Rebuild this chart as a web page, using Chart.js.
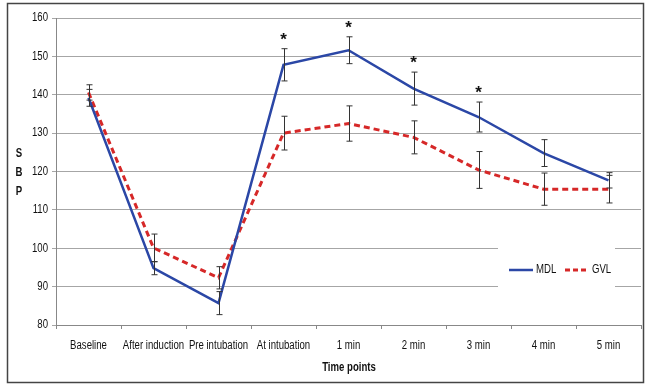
<!DOCTYPE html>
<html>
<head>
<meta charset="utf-8">
<script src="https://cdn.jsdelivr.net/npm/chart.js@4.4.1/dist/chart.umd.min.js"></script>
<style>
  html, body { margin: 0; padding: 0; background: #fff; }
  #wrap { width: 647px; height: 385px; position: relative; }
</style>
</head>
<body>
<div id="wrap"><canvas id="sbpChart" width="647" height="385"></canvas></div>
<script>
// Data
const timePoints = ["Baseline", "After induction", "Pre intubation", "At intubation", "1 min", "2 min", "3 min", "4 min", "5 min"];
const mdlMean = [139.2, 94.8, 85.7, 147.8, 151.6, 141.6, 134.2, 124.8, 117.7];
const mdlErr = [2.2, 1.7, 3.0, 4.2, 3.5, 4.3, 3.9, 3.5, 2.0];
const gvlMean = [140.6, 100.1, 92.3, 130.0, 132.5, 128.9, 120.4, 115.4, 115.4];
const gvlErr = [2.0, 3.6, 2.9, 4.4, 4.6, 4.3, 4.8, 4.2, 3.6];
const significant = [false, false, false, true, true, true, true, false, false];

const FONT = "'Liberation Sans', Arial, sans-serif";
const BLUE = "#2b47a6";
const RED = "#d62828";
const SQUEEZE = 0.8; // the original uses a condensed face

// draw text squeezed horizontally, anchored at (x, y)
function narrowText(ctx, text, x, y, align) {
  ctx.save();
  ctx.translate(x, y);
  ctx.scale(SQUEEZE, 1);
  ctx.textAlign = align;
  ctx.textBaseline = "middle";
  ctx.fillText(text, 0, 0);
  ctx.restore();
}

// tick labels, error bars, stars, axis titles, legend and frame
const extras = {
  id: "extras",
  beforeDatasetsDraw(chart) {
    const ctx = chart.ctx;
    // white legend box covering the grid lines
    ctx.save();
    ctx.fillStyle = "#fff";
    ctx.fillRect(498, 240, 117, 56);
    ctx.lineWidth = 2.5;
    ctx.strokeStyle = BLUE;
    ctx.beginPath();
    ctx.moveTo(509, 270);
    ctx.lineTo(533, 270);
    ctx.stroke();
    ctx.strokeStyle = RED;
    ctx.lineWidth = 3;
    ctx.setLineDash([5, 3]);
    ctx.beginPath();
    ctx.moveTo(565, 270);
    ctx.lineTo(589, 270);
    ctx.stroke();
    ctx.setLineDash([]);
    ctx.fillStyle = "#111";
    ctx.font = "12px " + FONT;
    narrowText(ctx, "MDL", 536, 270, "left");
    narrowText(ctx, "GVL", 592, 270, "left");
    ctx.restore();
  },
  afterDatasetsDraw(chart) {
    const ctx = chart.ctx;
    const x = chart.scales.x;
    const y = chart.scales.y;
    ctx.save();

    // tick labels
    ctx.fillStyle = "#111";
    ctx.font = "12px " + FONT;
    timePoints.forEach((t, i) => {
      narrowText(ctx, t, x.getPixelForValue(i), 346, "center");
    });
    y.ticks.forEach((t) => {
      narrowText(ctx, String(t.value), 48, y.getPixelForValue(t.value), "right");
    });

    // error bars
    ctx.strokeStyle = "#333";
    ctx.lineWidth = 1;
    const bars = (means, errs) => {
      means.forEach((m, i) => {
        const px = Math.round(x.getPixelForValue(i)) + 0.5;
        const top = y.getPixelForValue(m + errs[i]);
        const bot = y.getPixelForValue(m - errs[i]);
        ctx.beginPath();
        ctx.moveTo(px, top);
        ctx.lineTo(px, bot);
        ctx.moveTo(px - 3, top);
        ctx.lineTo(px + 3, top);
        ctx.moveTo(px - 3, bot);
        ctx.lineTo(px + 3, bot);
        ctx.stroke();
      });
    };
    bars(mdlMean, mdlErr);
    bars(gvlMean, gvlErr);

    // significance stars above MDL bars
    ctx.font = "bold 17px " + FONT;
    ctx.textAlign = "center";
    ctx.textBaseline = "alphabetic";
    significant.forEach((s, i) => {
      if (!s) return;
      const px = x.getPixelForValue(i);
      const top = y.getPixelForValue(mdlMean[i] + mdlErr[i]);
      ctx.fillText("*", px, top - 4);
    });

    // axis titles
    ctx.font = "bold 12px " + FONT;
    narrowText(ctx, "Time points", 349, 368, "center");
    narrowText(ctx, "S", 19, 154, "center");
    narrowText(ctx, "B", 19, 173, "center");
    narrowText(ctx, "P", 19, 192, "center");

    // outer frame
    ctx.strokeStyle = "#444";
    ctx.lineWidth = 1.5;
    ctx.strokeRect(7.5, 3.5, 636, 379);
    ctx.restore();
  }
};

const ctx = document.getElementById("sbpChart");

new Chart(ctx, {
  type: "line",
  data: {
    labels: timePoints,
    datasets: [
      {
        label: "MDL",
        data: mdlMean,
        borderColor: BLUE,
        borderWidth: 2.5,
        pointRadius: 0,
        tension: 0,
        fill: false,
      },
      {
        label: "GVL",
        data: gvlMean,
        borderColor: RED,
        borderWidth: 3,
        borderDash: [6, 4],
        pointRadius: 0,
        tension: 0,
        fill: false,
      },
    ],
  },
  options: {
    responsive: false,
    animation: false,
    layout: {
      padding: { top: 18, right: 6, bottom: 0, left: 0 },
    },
    scales: {
      x: {
        offset: true,
        grid: {
          offset: true,
          drawOnChartArea: false,
          drawTicks: true,
          tickLength: 4,
          color: "#888",
        },
        border: { color: "#888", width: 1 },
        ticks: {
          color: "rgba(0,0,0,0)",
          font: { family: FONT, size: 11 },
          maxRotation: 0,
          autoSkip: false,
        },
        afterFit(scale) {
          scale.height = 60;
        },
      },
      y: {
        min: 80,
        max: 160,
        grid: {
          color: "#a6a6a6",
          lineWidth: 1,
          tickLength: 4,
        },
        border: { color: "#888", width: 1 },
        ticks: {
          stepSize: 10,
          color: "rgba(0,0,0,0)",
          font: { family: FONT, size: 11 },
        },
        afterFit(scale) {
          scale.width = 56;
        },
      },
    },
    plugins: {
      legend: { display: false },
      tooltip: { enabled: false },
    },
  },
  plugins: [extras],
});
</script>
</body>
</html>
